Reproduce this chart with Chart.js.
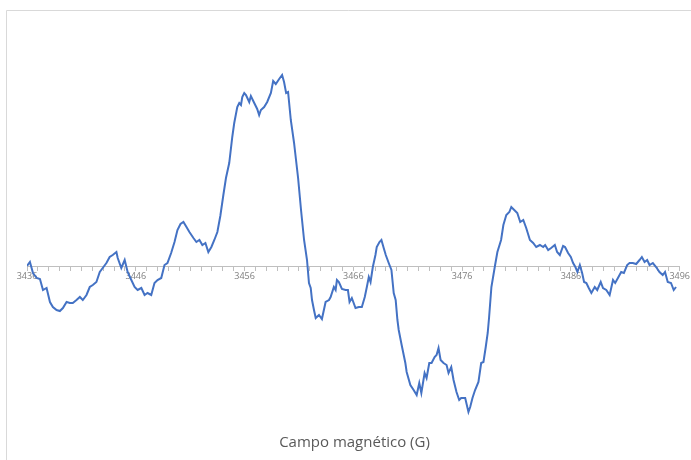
<!DOCTYPE html>
<html>
<head>
<meta charset="utf-8">
<script src="https://cdn.jsdelivr.net/npm/chart.js@4"></script>
<style>
html,body{margin:0;padding:0;background:#fff;}
#wrap{position:relative;width:691px;height:460px;}
</style>
</head>
<body>
<div id="wrap"><canvas id="c" width="691" height="460"></canvas></div>
<script>
const axisTitle = 'Campo magnético (G)';
const tickLabels = ['3436','3446','3456','3466','3476','3486','3496'];
const fieldG = [
3436.00,3436.27,3436.55,3436.89,3437.19,3437.47,3437.80,3438.11,3438.38,3438.72,
3439.02,3439.30,3439.64,3439.94,3440.21,3440.55,3440.86,3441.13,3441.47,3441.77,
3442.05,3442.38,3442.69,3442.96,3443.30,3443.60,3443.88,3444.22,3444.34,3444.67,
3444.98,3445.25,3445.59,3445.89,3446.17,3446.51,3446.81,3447.08,3447.42,3447.72,
3448.00,3448.34,3448.64,3448.91,3449.25,3449.56,3449.83,3450.11,3450.38,3450.66,
3450.93,3451.30,3451.57,3451.85,3452.12,3452.40,3452.67,3452.95,3453.22,3453.50,
3453.77,3454.05,3454.29,3454.59,3454.87,3455.05,3455.33,3455.51,3455.67,3455.79,
3455.97,3456.13,3456.43,3456.58,3456.89,3457.16,3457.34,3457.50,3457.80,3458.08,
3458.42,3458.63,3458.87,3459.18,3459.45,3459.63,3459.82,3460.00,3460.25,3460.55,
3460.73,3460.92,3461.19,3461.47,3461.74,3461.92,3462.08,3462.20,3462.38,3462.54,
3462.84,3463.11,3463.45,3463.76,3463.91,3464.21,3464.37,3464.49,3464.67,3464.95,
3465.29,3465.50,3465.65,3465.86,3466.20,3466.50,3466.78,3467.05,3467.24,3467.42,
3467.58,3467.79,3468.03,3468.15,3468.40,3468.58,3468.79,3468.98,3469.25,3469.50,
3469.71,3469.89,3470.05,3470.17,3470.44,3470.78,3470.90,3471.24,3471.54,3471.82,
3472.06,3472.25,3472.55,3472.73,3472.98,3473.19,3473.47,3473.65,3473.83,3474.02,
3474.29,3474.57,3474.75,3475.00,3475.21,3475.48,3475.73,3475.91,3476.28,3476.58,
3476.74,3476.95,3477.19,3477.50,3477.75,3477.96,3478.17,3478.35,3478.48,3478.69,
3479.03,3479.24,3479.58,3479.79,3480.06,3480.34,3480.52,3480.79,3481.07,3481.34,
3481.62,3481.89,3482.23,3482.53,3482.81,3483.15,3483.45,3483.63,3483.91,3484.18,
3484.52,3484.73,3484.98,3485.28,3485.46,3485.74,3485.99,3486.20,3486.41,3486.60,
3486.82,3487.03,3487.21,3487.42,3487.64,3487.88,3488.19,3488.42,3488.74,3488.95,
3489.25,3489.56,3489.87,3490.07,3490.32,3490.62,3490.87,3491.17,3491.39,3491.69,
3492.00,3492.31,3492.52,3492.77,3493.01,3493.23,3493.53,3493.83,3494.14,3494.44,
3494.65,3494.90,3495.20,3495.45,3495.66
];
const signal = [
0,4,-7,-12,-13,-24,-22,-36,-41,-44,
-45,-42,-36,-37,-37,-34,-31,-34,-29,-21,
-19,-16,-6,-2,3,9,11,14,8,-2,
6,-6,-14,-21,-24,-22,-29,-27,-29,-17,
-14,-12,1,3,13,24,36,42,44,39,
34,28,24,26,21,23,14,19,26,34,
50,71,88,103,129,143,159,163,161,169,
173,171,164,170,163,157,151,156,159,164,
173,185,182,187,191,184,173,174,146,123,
106,88,56,26,6,-17,-22,-34,-44,-52,
-49,-53,-36,-34,-31,-21,-24,-14,-16,-23,
-24,-24,-36,-32,-42,-41,-41,-31,-21,-11,
-16,-1,11,19,24,26,18,11,3,-4,
-27,-34,-54,-64,-79,-97,-106,-119,-124,-129,
-117,-127,-107,-112,-97,-97,-91,-89,-82,-94,
-97,-99,-107,-101,-114,-126,-134,-132,-132,-146,
-141,-132,-124,-116,-97,-96,-81,-67,-51,-21,
1,14,26,41,51,54,59,56,53,44,
46,38,26,23,19,21,19,21,16,18,
21,14,11,20,19,13,9,3,-1,-6,
1,-7,-16,-17,-22,-27,-21,-24,-16,-22,
-24,-29,-14,-17,-12,-6,-7,1,3,3,
2,6,9,4,6,1,3,-1,-6,-9,
-6,-16,-17,-24,-21
];

const points = fieldG.map((g, i) => ({x: g, y: signal[i]}));

const borderPlugin = {
  id: 'frame',
  beforeDraw(chart) {
    const ctx = chart.ctx;
    ctx.save();
    ctx.fillStyle = '#ffffff';
    ctx.fillRect(0, 0, chart.width, chart.height);
    ctx.strokeStyle = '#d9d9d9';
    ctx.lineWidth = 1;
    ctx.beginPath();
    ctx.moveTo(6.5, chart.height);
    ctx.lineTo(6.5, 10.5);
    ctx.lineTo(chart.width, 10.5);
    ctx.stroke();
    ctx.restore();
  }
};

new Chart(document.getElementById('c'), {
  type: 'line',
  data: {
    datasets: [{
      data: points,
      borderColor: '#4472C4',
      borderWidth: 2,
      pointRadius: 0,
      tension: 0,
      fill: false
    }]
  },
  options: {
    responsive: false,
    animation: false,
    layout: { padding: { left: 27, right: 9, top: 40, bottom: 0 } },
    plugins: {
      legend: { display: false },
      tooltip: { enabled: false },
      title: {
        display: true,
        text: axisTitle,
        position: 'bottom',
        color: '#595959',
        font: { family: 'Open Sans', size: 15, weight: 'normal' },
        padding: { top: 4, bottom: 8 }
      }
    },
    scales: {
      x: {
        type: 'linear',
        position: { y: 0 },
        min: 3436,
        max: 3496,
        grid: {
          drawOnChartArea: false,
          drawTicks: true,
          tickLength: 4,
          color: '#bfbfbf'
        },
        border: { display: true, color: '#bfbfbf', width: 1 },
        ticks: {
          stepSize: 1,
          autoSkip: false,
          maxRotation: 0,
          padding: 1,
          color: '#7f7f7f',
          font: { family: 'Open Sans', size: 9 },
          callback: (v) => {
            const s = String(Math.round(v));
            return tickLabels.includes(s) && Math.abs(v - Math.round(v)) < 1e-6 ? s : '';
          }
        }
      },
      y: {
        display: false,
        min: -164,
        max: 226
      }
    }
  },
  plugins: [borderPlugin]
});
</script>
</body>
</html>
